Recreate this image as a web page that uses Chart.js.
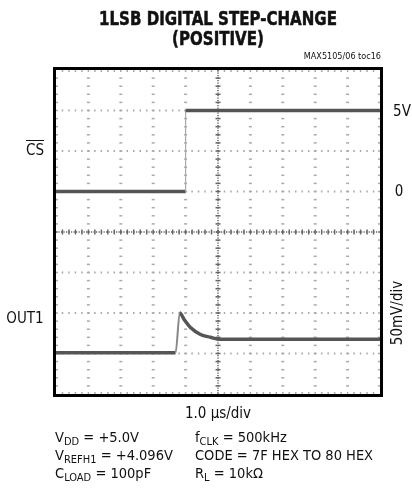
<!DOCTYPE html>
<html lang="en">
<head>
    <meta charset="UTF-8">
    <title>1LSB Digital Step-Change (Positive)</title>
    <style>
        body { margin: 0; background: #fff; }
        #wrap { position: relative; width: 412px; height: 490px; font-family: "Liberation Sans Narrow", "Arial Narrow", "DejaVu Sans Condensed", sans-serif; color: #111; }
        #wrap canvas { position: absolute; left: 0; top: 0; }
        .lbl { position: absolute; white-space: nowrap; font-size: 15px; line-height: 18px; }
        .c { transform: translate(-50%, -50%); }
        .title { position: absolute; left: 68px; width: 300px; top: 8px; text-align: center; font-weight: bold; font-size: 19px; line-height: 20px; transform: scaleX(0.88); -webkit-text-stroke: 0.5px #111; }
        .note { position: absolute; font-size: 14.5px; line-height: 18px; white-space: nowrap; }
        sub { font-size: 11px; vertical-align: -3px; line-height: 0; }
    </style>
</head>
<body>
<div id="wrap">
    <canvas id="scope" width="412" height="490"></canvas>
    <div class="title">1LSB DIGITAL STEP-CHANGE<br>(POSITIVE)</div>
    <div class="lbl" style="right:31px; top:51px; font-size:9px; line-height:10px;">MAX5105/06 toc16</div>

    <div class="lbl c" style="left:35px; top:150px; text-decoration: overline;">CS</div>
    <div class="lbl c" style="left:25px; top:318px;">OUT1</div>
    <div class="lbl c" style="left:402px; top:111px;">5V</div>
    <div class="lbl c" style="left:399px; top:191px;">0</div>
    <div class="lbl" style="left:397px; top:313px; transform: translate(-50%, -50%) rotate(-90deg);">50mV/div</div>

    <div class="lbl c" style="left:218px; top:413px;">1.0 µs/div</div>
    <div class="note" style="left:55px; top:428px;">V<sub>DD</sub> = +5.0V</div>
    <div class="note" style="left:55px; top:446px;">V<sub>REFH1</sub> = +4.096V</div>
    <div class="note" style="left:55px; top:464px;">C<sub>LOAD</sub> = 100pF</div>
    <div class="note" style="left:195px; top:428px;">f<sub>CLK</sub> = 500kHz</div>
    <div class="note" style="left:195px; top:446px;">CODE = 7F HEX TO 80 HEX</div>
    <div class="note" style="left:195px; top:464px;">R<sub>L</sub> = 10kΩ</div>
</div>

<script src="https://cdn.jsdelivr.net/npm/chart.js"></script>
<script>
// time in divisions (1.0 µs/div), level in divisions from bottom of the screen
const csTime   = [0, 4.0, 4.0, 10];
const csLevel  = [5, 5, 7, 7];
const outTime  = [0, 3.69, 3.82, 3.97, 4.15, 4.46, 4.77, 4.98, 5.5, 10];
const outLevel = [1.02, 1.02, 2.0, 1.82, 1.64, 1.47, 1.40, 1.36, 1.35, 1.35];

const xDivs = 10;
const yDivs = 8;

function pts(xs, ys) {
    return xs.map((v, i) => ({ x: v, y: ys[i] }));
}

// fast edges show up as a faint thin line on the scope
function edge(ctx) {
    const dx = Math.abs(ctx.p1.parsed.x - ctx.p0.parsed.x);
    const dy = Math.abs(ctx.p1.parsed.y - ctx.p0.parsed.y);
    if (dy > 0.5 && dx < 0.01) return 2;
    if (dy > 0.5 && dx < 0.2) return 1;
    return 0;
}
const traceSegment = {
    borderWidth: ctx => [3.5, 2, 1.2][edge(ctx)],
    borderColor: ctx => ['#555', '#888', '#aaa'][edge(ctx)]
};

// oscilloscope graticule + frame, placed with the chart's scales
const graticule = {
    id: 'graticule',
    beforeDatasetsDraw(chart) {
        const { ctx, chartArea: a, scales: { x, y } } = chart;
        ctx.save();
        ctx.fillStyle = '#aaa';
        // vertical division lines
        for (let i = 1; i < xDivs; i++) {
            if (i === xDivs / 2) continue;
            const px = x.getPixelForValue(i);
            for (let k = 1; k < yDivs * 5; k++) {
                const py = y.getPixelForValue(k / 5);
                ctx.fillRect(px - 1.5, py - 0.75, 3, 1.5);
            }
        }
        // horizontal division lines
        for (let j = 1; j < yDivs; j++) {
            if (j === yDivs / 2) continue;
            const py = y.getPixelForValue(j);
            for (let k = 1; k < xDivs * 5; k++) {
                const px = x.getPixelForValue(k / 5);
                ctx.fillRect(px - 0.75, py - 1, 1.5, 2);
            }
        }
        // ticks along the frame
        for (let k = 1; k < xDivs * 5; k++) {
            const px = x.getPixelForValue(k / 5);
            ctx.fillRect(px - 0.75, a.top, 1.5, 2);
            ctx.fillRect(px - 0.75, a.bottom - 2, 1.5, 2);
        }
        for (let k = 1; k < yDivs * 5; k++) {
            const py = y.getPixelForValue(k / 5);
            ctx.fillRect(a.left, py - 0.75, 2, 1.5);
            ctx.fillRect(a.right - 2, py - 0.75, 2, 1.5);
        }
        // centre axes with heavier ticks
        ctx.fillStyle = '#666';
        const cx = x.getPixelForValue(xDivs / 2);
        const cy = y.getPixelForValue(yDivs / 2);
        for (let p = a.top; p < a.bottom; p += 2.5) ctx.fillRect(cx - 0.75, p, 1.5, 1.2);
        for (let p = a.left; p < a.right; p += 2.5) ctx.fillRect(p, cy - 0.75, 1.2, 1.5);
        for (let k = 1; k < yDivs * 5; k++) {
            const py = y.getPixelForValue(k / 5);
            ctx.fillRect(cx - 2.5, py - 0.75, 5, 1.5);
        }
        for (let k = 1; k < xDivs * 5; k++) {
            const px = x.getPixelForValue(k / 5);
            ctx.fillRect(px - 0.75, cy - 2.5, 1.5, 5);
        }
        ctx.restore();
    },
    afterDatasetsDraw(chart) {
        const { ctx, chartArea: a } = chart;
        ctx.save();
        ctx.strokeStyle = '#000';
        ctx.lineWidth = 3;
        ctx.strokeRect(a.left - 1.5, a.top - 1.5, a.right - a.left + 3, a.bottom - a.top + 3);
        ctx.restore();
    }
};

new Chart(document.getElementById('scope'), {
    type: 'line',
    data: {
        datasets: [
            {
                label: 'CS',
                data: pts(csTime, csLevel),
                borderColor: '#555',
                borderWidth: 3.5,
                pointRadius: 0,
                tension: 0,
                segment: traceSegment
            },
            {
                label: 'OUT1',
                data: pts(outTime, outLevel),
                borderColor: '#555',
                borderWidth: 3.5,
                pointRadius: 0,
                cubicInterpolationMode: 'monotone',
                segment: traceSegment
            }
        ]
    },
    options: {
        responsive: false,
        animation: false,
        layout: { padding: { left: 56, top: 70, right: 32, bottom: 96 } },
        plugins: { legend: { display: false }, tooltip: { enabled: false } },
        scales: {
            x: { type: 'linear', min: 0, max: xDivs, display: false },
            y: { type: 'linear', min: 0, max: yDivs, display: false }
        }
    },
    plugins: [graticule]
});
</script>
</body>
</html>
